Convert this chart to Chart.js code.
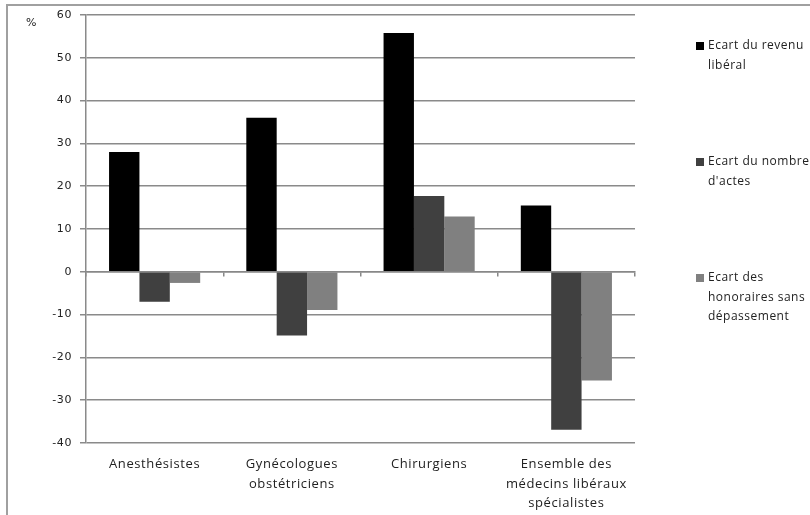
<!DOCTYPE html>
<html><head><meta charset="utf-8">
<script src="https://cdn.jsdelivr.net/npm/chart.js@4/dist/chart.umd.min.js"></script>
<style>
html,body{margin:0;padding:0;background:#fff;}
#wrap{position:relative;width:810px;height:515px;overflow:hidden;}
#frame{position:absolute;left:6px;top:4px;width:900px;height:600px;border-left:2px solid #a0a0a0;border-top:2px solid #a0a0a0;}
canvas{position:absolute;left:0;top:0;}
</style></head>
<body><div id="wrap"><div id="frame"></div><canvas id="c" width="810" height="515"></canvas></div>
<script>
const categories = ["Anesthésistes", ["Gynécologues","obstétriciens"], "Chirurgiens", ["Ensemble des","médecins libéraux","spécialistes"]];
const seriesNames = [["Ecart du revenu","libéral"], ["Ecart du nombre","d'actes"], ["Ecart des","honoraires sans","dépassement"]];
const revenu = [28, 36, 55.8, 15.5];
const actes = [-7, -14.9, 17.7, -36.9];
const honoraires = [-2.6, -8.9, 12.9, -25.4];
const colors = ["#000000", "#404040", "#808080"];
const yTicks = [-40, -30, -20, -10, 0, 10, 20, 30, 40, 50, 60];

const spacingPlugin = {
  id: 'spacing',
  beforeDraw(chart) { chart.ctx.letterSpacing = '0.6px'; }
};

const legendPlugin = {
  id: 'sideLegend',
  afterDraw(chart) {
    const ctx = chart.ctx;
    const tops = [46, 162, 278];
    ctx.save();
    ctx.letterSpacing = '0.5px';
    ctx.font = '12px "Open Sans"';
    ctx.textBaseline = 'middle';
    seriesNames.forEach((lines, i) => {
      const y0 = tops[i];
      ctx.fillStyle = colors[i];
      ctx.fillRect(696, y0 - 4, 8, 8);
      ctx.fillStyle = '#222';
      lines.forEach((t, j) => ctx.fillText(t, 708, y0 + j * 19.3));
    });
    ctx.font = '11px "DejaVu Sans"';
    ctx.fillText('%', 26, 23);
    ctx.restore();
  }
};

new Chart(document.getElementById('c'), {
  type: 'bar',
  data: {
    labels: categories,
    datasets: [
      {label: seriesNames[0].join(' '), data: revenu, backgroundColor: colors[0]},
      {label: seriesNames[1].join(' '), data: actes, backgroundColor: colors[1]},
      {label: seriesNames[2].join(' '), data: honoraires, backgroundColor: colors[2]}
    ]
  },
  options: {
    responsive: false,
    animation: false,
    devicePixelRatio: 1,
    categoryPercentage: 0.664,
    barPercentage: 1,
    layout: {padding: {top: 15, right: 175, left: 0, bottom: 0}},
    plugins: {legend: {display: false}, tooltip: {enabled: false}},
    scales: {
      x: {
        position: 'bottom',
        grid: {display: false},
        border: {display: false},
        ticks: {color: '#222', font: {family: 'Open Sans', size: 13, lineHeight: 1.5}, padding: 4, maxRotation: 0, autoSkip: false},
        afterFit(s) { s.height = 72; }
      },
      x2: {
        type: 'category',
        labels: categories,
        position: {y: 0},
        offset: true,
        grid: {drawOnChartArea: false, offset: true, tickLength: 4, color: '#888', lineWidth: 1.5},
        border: {display: true, color: '#888', width: 1.5},
        ticks: {display: false}
      },
      y: {
        min: -40, max: 60,
        afterBuildTicks(s) { s.ticks = yTicks.map(v => ({value: v})); },
        grid: {color: '#8a8a8a', lineWidth: 1.5, tickLength: 6},
        border: {display: true, color: '#8a8a8a', width: 1.5},
        ticks: {color: '#222', font: {family: 'DejaVu Sans', size: 11}, padding: 8},
        afterFit(s) { s.width = 86; }
      }
    }
  },
  plugins: [spacingPlugin, legendPlugin]
});
</script></body></html>
